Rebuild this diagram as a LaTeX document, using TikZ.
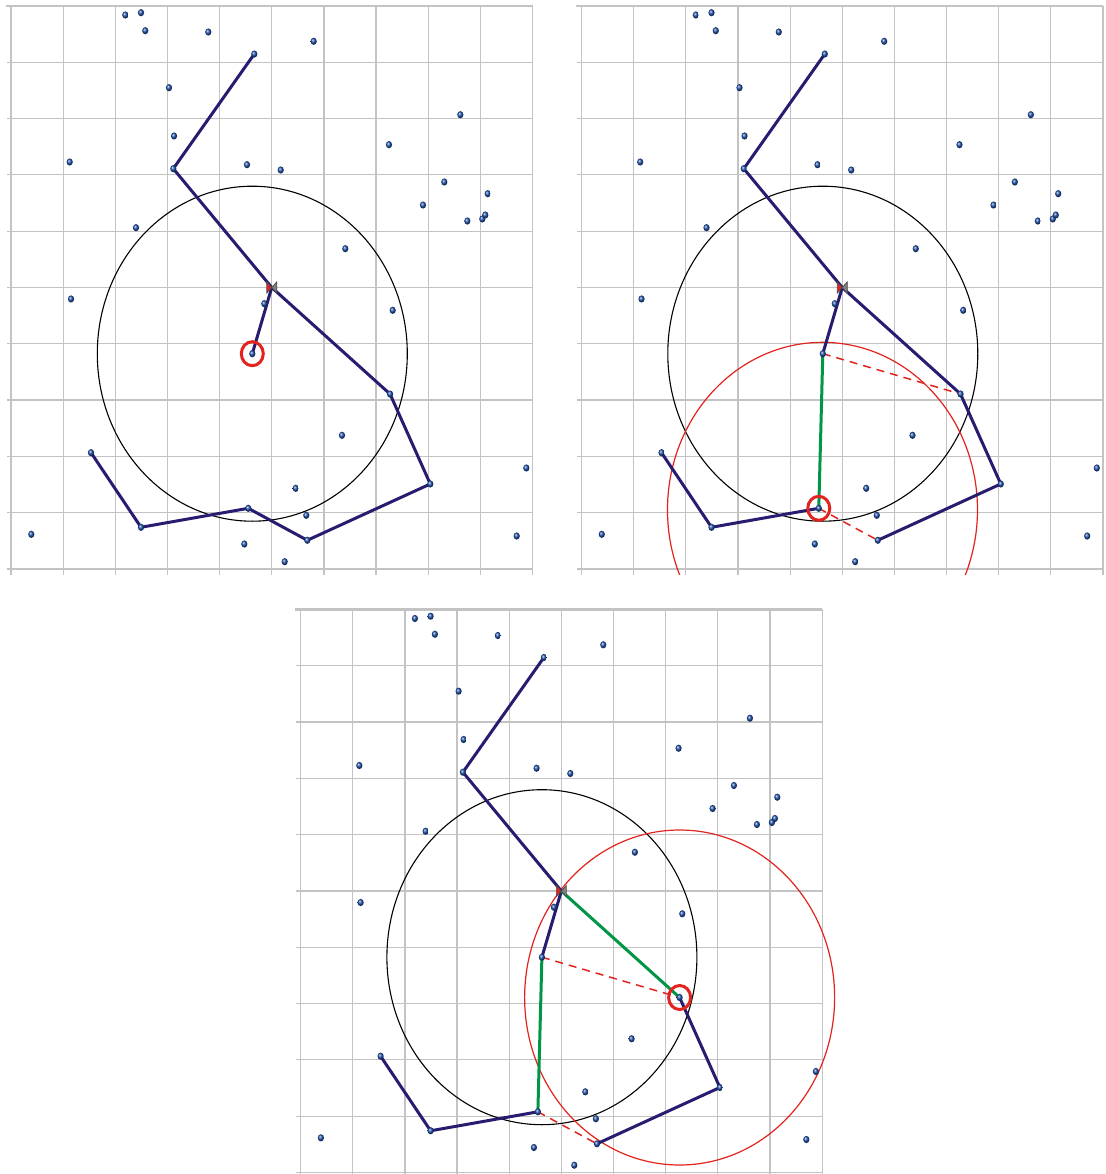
\documentclass[tikz,border=0pt]{standalone}
\usetikzlibrary{calc,shapes.geometric}
\definecolor{gridgray}{RGB}{195,195,195}
\definecolor{pathblue}{RGB}{40,28,112}
\definecolor{newgreen}{RGB}{0,150,70}
\definecolor{rred}{RGB}{226,35,30}
\definecolor{dotblue}{RGB}{30,80,170}
\tikzset{
  gridline/.style={gridgray, line width=0.6pt},
  gridtop/.style={gridgray, line width=1.1pt},
  edge/.style={pathblue, line width=1.5pt, line cap=round, line join=round},
  newedge/.style={newgreen, line width=1.5pt},
  cutedge/.style={rred, line width=0.75pt, dash pattern=on 4pt off 3pt},
  rangecircle/.style={black, line width=0.55pt},
  nearcircle/.style={rred, line width=0.6pt},
  pick/.style={rred, line width=1.5pt},
  dot/.style={ellipse, draw=none, inner sep=0pt, minimum width=3.1pt, minimum height=3.6pt, ball color=dotblue},
  panelunits/.style={x=26.075pt, y=28.15pt},
}
\newcommand\panelbase[1]{%
  \foreach \i in {0,...,10} {
    \draw[gridline] (\i,-0.107) -- (\i,10);
    \draw[gridline] (-0.083,\i) -- (10,\i);
  }
  \draw[gridtop] (-0.1,10) -- (10,10);
  \coordinate (#1-A) at (4.665,9.147);
  \coordinate (#1-B) at (3.112,7.110);
  \coordinate (#1-R) at (5,5);
  \coordinate (#1-S) at (4.627,3.824);
  \coordinate (#1-N2) at (7.268,3.108);
  \coordinate (#1-V) at (8.040,1.510);
  \coordinate (#1-N3) at (5.682,0.510);
  \coordinate (#1-N1) at (4.550,1.078);
  \coordinate (#1-C) at (2.493,0.741);
  \coordinate (#1-D) at (1.534,2.066);
  \draw[rangecircle] (#1-S) ellipse [x radius=77.5pt, y radius=83.75pt];
}
\newcommand\paneldots[1]{%
  \foreach \px/\py [count=\n] in {2.192/9.840, 2.493/9.881, 2.575/9.561, 3.783/9.538, 4.665/9.147,
     3.030/8.549, 3.126/7.691, 1.126/7.229, 3.112/7.110, 4.525/7.181, 5.172/7.087, 2.397/6.062,
     1.151/4.796, 5.804/9.373, 8.616/8.069, 7.248/7.536, 8.309/6.874, 9.141/6.666, 7.900/6.465,
     8.750/6.181, 9.037/6.217, 9.095/6.288, 6.410/5.689, 4.857/4.712, 4.627/3.824, 1.534/2.066,
     2.493/0.741, 4.550/1.078, 0.389/0.616, 4.474/0.444, 7.319/4.595, 7.268/3.108, 6.347/2.375,
     8.040/1.510, 5.459/1.433, 5.662/0.954, 5.682/0.510, 5.248/0.130, 9.881/1.794, 9.697/0.586}
    {\node[dot] (#1-d\n) at (\px,\py) {};}
  \filldraw[fill=rred, draw=black!70, line width=0.35pt]
    ($(#1-R)+(-2.5pt,2.8pt)$) -- ($(#1-R)+(-2.5pt,-2.8pt)$) -- (#1-R) -- cycle;
  \filldraw[fill=black!50, draw=black!70, line width=0.35pt]
    ($(#1-R)+(2.5pt,2.8pt)$) -- ($(#1-R)+(2.5pt,-2.8pt)$) -- (#1-R) -- cycle;
}
\begin{document}
\begin{tikzpicture}
\fill[white] (0,0) rectangle (552.5pt,587pt);
\path[use as bounding box] (0,0) rectangle (552.5pt,587pt);

% Panel 1
\begin{scope}[shift={(5.5pt,302.5pt)}, panelunits]
  \panelbase{a}
  \draw[edge] (a-D) -- (a-C) -- (a-N1) -- (a-N3) -- (a-V) -- (a-N2) -- (a-R) -- (a-B) -- (a-A);
  \draw[edge] (a-R) -- (a-S);
  \paneldots{a}
  \draw[pick] (a-S) ellipse [x radius=5.5pt, y radius=6pt];
\end{scope}

% Panel 2
\begin{scope}[shift={(290.75pt,302.5pt)}, panelunits]
  \panelbase{b}
  \coordinate (b-Q) at (4.621,1.051);
  \begin{scope}
    \clip (-0.5,-0.1) rectangle (10.5,10.5);
    \draw[nearcircle] (b-Q) ellipse [x radius=77.5pt, y radius=83.75pt];
  \end{scope}
  \draw[edge] (b-D) -- (b-C) -- (b-N1);
  \draw[edge] (b-N3) -- (b-V) -- (b-N2) -- (b-R) -- (b-B) -- (b-A);
  \draw[edge] (b-R) -- (b-S);
  \draw[cutedge] (b-N1) -- (b-N3);
  \draw[cutedge] (b-S) -- (b-N2);
  \draw[newedge] (b-S) -- (b-N1);
  \paneldots{b}
  \draw[pick] (b-N1) ellipse [x radius=5.5pt, y radius=6pt];
\end{scope}

% Panel 3
\begin{scope}[shift={(150.3pt,0.75pt)}, panelunits]
  \panelbase{c}
  \draw[nearcircle] (c-N2) ellipse [x radius=77.5pt, y radius=83.75pt];
  \draw[edge] (c-D) -- (c-C) -- (c-N1);
  \draw[edge] (c-N3) -- (c-V) -- (c-N2);
  \draw[edge] (c-R) -- (c-B) -- (c-A);
  \draw[edge] (c-R) -- (c-S);
  \draw[cutedge] (c-N1) -- (c-N3);
  \draw[cutedge] (c-S) -- (c-N2);
  \draw[newedge] (c-S) -- (c-N1);
  \draw[newedge] (c-R) -- (c-N2);
  \paneldots{c}
  \draw[pick] (c-N2) ellipse [x radius=5.5pt, y radius=6pt];
\end{scope}
\end{tikzpicture}
\end{document}
